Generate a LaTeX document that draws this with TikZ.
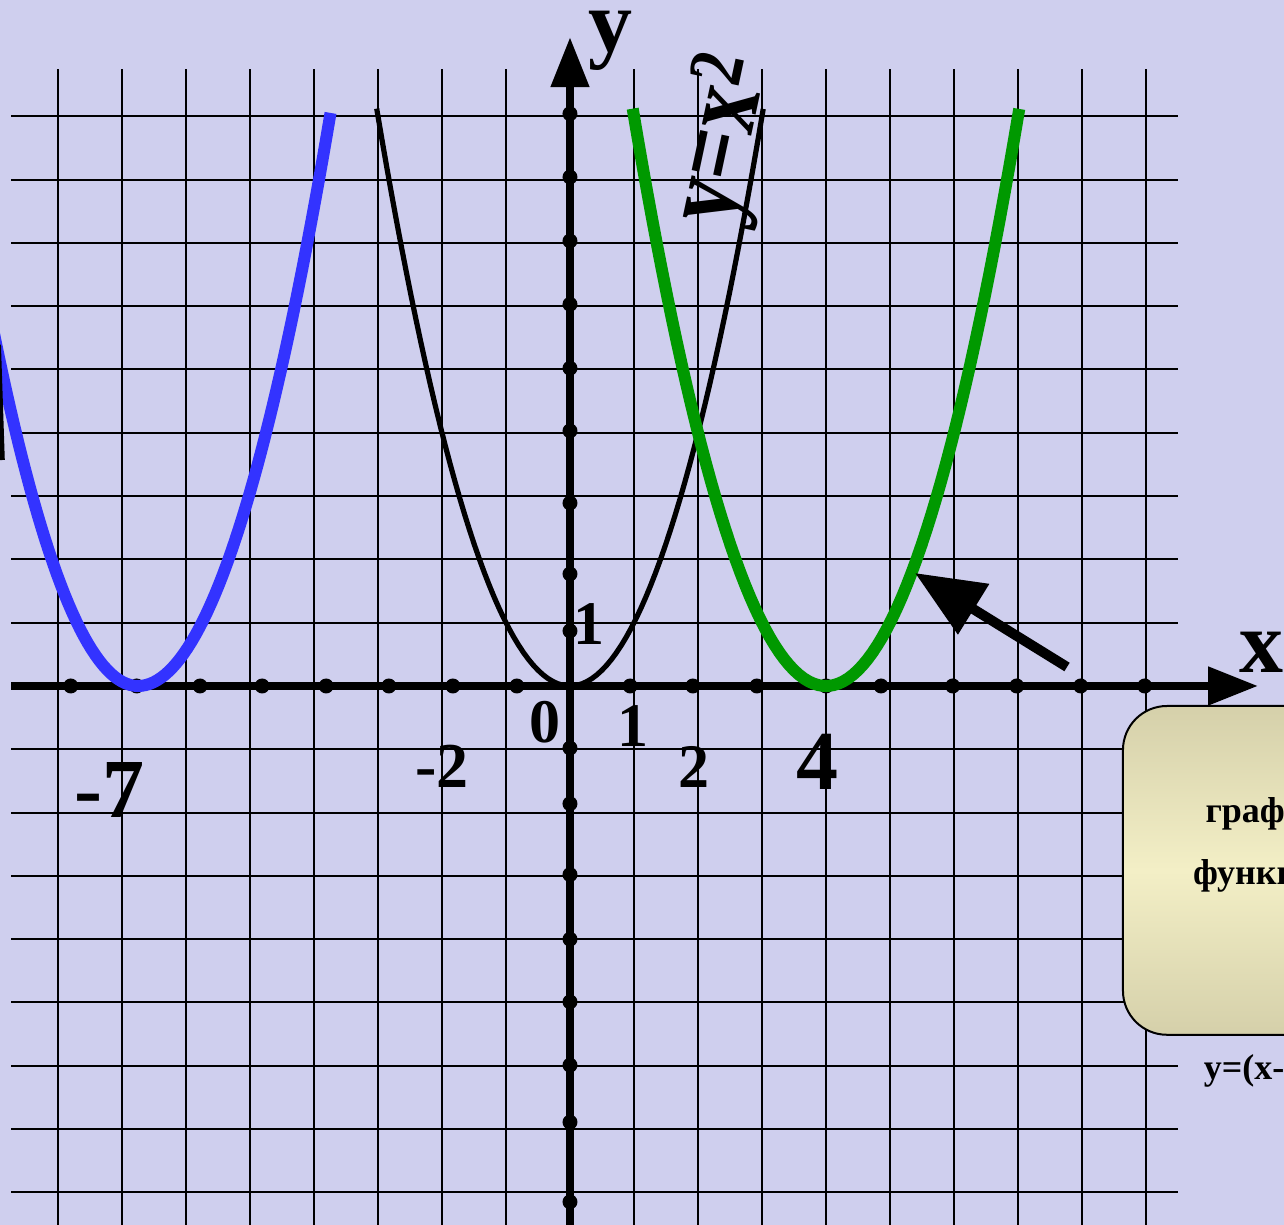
\documentclass[tikz,border=0pt]{standalone}
\usepackage{fontspec}
\setmainfont{Liberation Serif}
\usepackage{tikz}
\usetikzlibrary{arrows.meta, positioning, calc}
\definecolor{colBack}{RGB}{207,207,238}
\definecolor{colShift}{RGB}{0,153,0}
\definecolor{colLeft}{RGB}{51,51,255}
\definecolor{colBoxEdge}{RGB}{213,208,170}
\definecolor{colBoxMid}{RGB}{243,239,198}

\begin{document}
\begin{tikzpicture}[
  x=32pt, y=31.65pt,
  gridline/.style={line width=1pt, black},
  axisline/.style={line width=4pt, -{Triangle[length=25pt, width=18.5pt]}},
  axdot/.style={circle, fill=black, inner sep=0pt, minimum size=7.5pt},
  curve/.style={line width=#1, line join=round},
  num/.style={font=\fontsize{31}{31}\selectfont\bfseries, inner sep=0pt, anchor=base},
  bignum/.style={font=\fontsize{42}{42}\selectfont\bfseries, inner sep=0pt, anchor=base},
  axname/.style={font=\fontsize{44}{44}\selectfont\bfseries, inner sep=0pt, anchor=base},
  boxtext/.style={font=\fontsize{18}{18}\selectfont\bfseries, inner sep=0pt, anchor=base},
  pointer/.style={line width=5pt, -{Triangle[length=34.5pt, width=28.5pt]}},
]

% ─── CANVAS ───────────────────────────────────────────────────────────────────
\path[fill=colBack, use as bounding box] (-8.906,-8.515) rectangle (11.156,10.837);
\clip (-8.906,-8.515) rectangle (11.156,10.837);

% ─── GRID ─────────────────────────────────────────────────────────────────────
\foreach \gx in {-8,...,9}
  \draw[gridline] (\gx,-8.6) -- (\gx,9.75);
\foreach \gy in {-8,...,9}
  \draw[gridline] (-8.73,\gy) -- (9.5,\gy);

% ─── NOTE BOX ─────────────────────────────────────────────────────────────────
\draw[line width=1pt, rounded corners=22pt, top color=colBoxEdge, bottom color=colBoxEdge,
      middle color=colBoxMid] (8.64,-0.316) rectangle (13.11,-5.51);
\node[boxtext] (noteA) at (10.875,-2.15) {график};
\node[boxtext] (noteB) at (10.875,-3.14) {функции};
\node[boxtext] (noteC) at (10.875,-6.22) {y=(x-4)\textsuperscript{2}};

% ─── AXES ─────────────────────────────────────────────────────────────────────
\coordinate (xstart) at (-8.73,0);
\coordinate (xend)   at (10.75,0);
\coordinate (ystart) at (0,-8.7);
\coordinate (yend)   at (0,10.25);
\draw[axisline] (xstart) -- (xend);
\draw[axisline] (ystart) -- (yend);

\foreach \d [count=\i] in {-7.80,-6.77,-5.78,-4.81,-3.81,-2.83,-1.83,-0.83,
                           0.94,1.92,2.92,4.0,4.86,5.98,6.98,7.98,8.98}
  \node[axdot] (xd\i) at (\d,0) {};
\foreach \d [count=\i] in {9.04,8.04,7.03,6.03,5.02,4.03,2.89,1.77,0.87,
                           -0.98,-1.86,-2.98,-4.0,-4.99,-5.99,-6.89,-8.15}
  \node[axdot] (yd\i) at (0,\d) {};

% ─── PARABOLAS ────────────────────────────────────────────────────────────────
\draw[curve=2.6pt] plot[domain=-3.02:3.02, samples=80] (\x,{\x*\x});
\draw[curve=6pt, colShift] plot[domain=0.98:7.02, samples=80] (\x,{(\x-4)^2});
\draw[curve=6pt, colLeft] plot[domain=-9.1:-3.74, samples=90]
  (\x,{(\x<-6.75 ? 1.1 : 1)*(\x+6.75)^2});
\draw[line width=2.5pt] (-8.93,5.39) -- (-8.87,3.57);

% ─── LABELS ───────────────────────────────────────────────────────────────────
\node[axname] (ylab) at (0.64,10.02) {y};
\node[axname] (xlab) at (10.81,0.22) {x};
\node[num] (n0)  at (-0.39,-0.885) {0};
\node[num] (n1x) at (0.98,-0.96) {1};
\node[num] (n1y) at (0.30,0.65) {1};
\node[num] (n2)  at (1.94,-1.60) {2};
\node[num, font=\fontsize{32}{32}\selectfont\bfseries] (nm2) at (-2.0,-1.61) {-2};
\node[bignum] (n4)  at (3.875,-1.64) {4};
\node[bignum] (nm7) at (-7.20,-2.085) {-7};
\node[font=\fontsize{44}{44}\selectfont\bfseries, inner sep=0pt, rotate=78, yscale=1.25]
  (basecurve) at (2.43,8.62) {y=x\textsuperscript{2}};

% ─── POINTER ──────────────────────────────────────────────────────────────────
\coordinate (ptail) at (7.766,0.30);
\coordinate (phead) at (5.39,1.785);
\draw[pointer] (ptail) -- (phead);

\end{tikzpicture}
\end{document}
